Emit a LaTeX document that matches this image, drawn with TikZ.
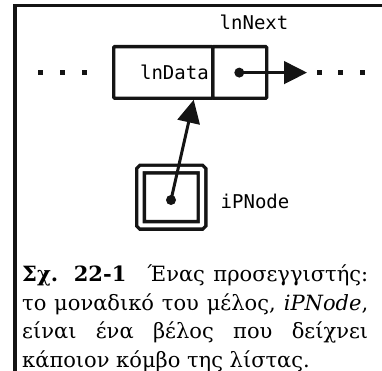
\documentclass[tikz,border=0pt]{standalone}
\usepackage{fontspec}
\setmainfont{DejaVu Serif}
\newfontfamily\codefont{DejaVu Sans Mono}
\usetikzlibrary{arrows.meta}
\definecolor{inkLine}{RGB}{20,20,20}

\begin{document}
\begin{tikzpicture}[x=1pt,y=-1pt,>={Triangle[length=23pt,width=22.5pt]},
  cell/.style ={draw=inkLine,line width=3.4pt,rounded corners=1pt,outer sep=0pt,inner sep=0pt,minimum height=51.6pt},
  ptr/.style  ={draw=inkLine,double,double distance=4.2pt,line width=3.4pt,rounded corners=1pt,outer sep=0pt,inner sep=0pt,minimum width=61.5pt,minimum height=56.3pt},
  dot/.style  ={circle,fill=inkLine,inner sep=0pt,minimum size=10pt},
  code/.style ={font=\codefont\fontsize{19}{22}\selectfont,inner sep=0pt},
  link/.style ={->,line width=3pt,draw=inkLine},
  frame/.style={draw=inkLine,line width=3.4pt},
  caption/.style={anchor=north west,inner sep=0pt,text width=346pt,align=justify,font=\fontsize{21}{28.5}\selectfont}]
\useasboundingbox (0,0) rectangle (382,371);

\draw[frame] (382,5.7) -- (15,5.7) -- (15,371);

\node[cell,code,text width=91pt,align=right,inner xsep=4pt] (data) at (163.2,72.5) {lnData};
\node[cell,minimum width=54pt,anchor=west] (next) at (data.east) {};
\node[dot] (nextdot) at (239.3,72.6) {};
\coordinate (more) at (307,72.6);
\node[code] (nextlbl) at (254,22) {lnNext};

\node[ptr] (ptr) at (171.25,197.2) {};
\node[dot] (ptrdot) at (171,200) {};
\node[code] (ptrlbl) at (255,201) {iPNode};

\draw[link] (nextdot.center) -- (more);
\draw[link] (ptrdot.center) -- ([xshift=30.5pt,yshift=-1.5pt]data.south);

\foreach \x in {40.5,62.5,84.5,319.5,340.5,362.5}
  \fill[inkLine] (\x-2.5,70) rectangle ++(5,5);

\node[caption] (cap) at (22,265) {\hyphenpenalty=10000
  \textbf{Σχ. 22-1}\quad Ένας προσεγγιστής:\linebreak
  το μοναδικό του μέλος, \textit{iPNode},\linebreak
  είναι ένα βέλος που δείχνει\linebreak
  κάποιον κόμβο της λίστας.};
\end{tikzpicture}
\end{document}
